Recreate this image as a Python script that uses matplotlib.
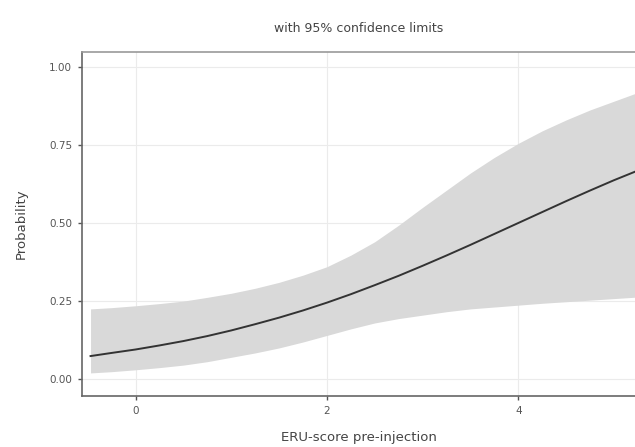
import numpy as np
import matplotlib.pyplot as plt

# values
x = [-0.47, -0.25, 0.0, 0.25, 0.5, 0.75, 1.0, 1.25, 1.5, 1.75, 2.0, 2.25, 2.5,
     2.75, 3.0, 3.25, 3.5, 3.75, 4.0, 4.25, 4.5, 4.75, 5.0, 5.25]
prob = [0.074, 0.084, 0.095, 0.108, 0.122, 0.138, 0.156, 0.176, 0.197, 0.220,
        0.245, 0.272, 0.301, 0.331, 0.363, 0.396, 0.430, 0.465, 0.500, 0.535,
        0.570, 0.604, 0.637, 0.668]
upper = [0.225, 0.229, 0.235, 0.242, 0.250, 0.262, 0.275, 0.291, 0.310, 0.333,
         0.360, 0.397, 0.440, 0.493, 0.550, 0.605, 0.660, 0.710, 0.755, 0.795,
         0.830, 0.862, 0.890, 0.918]
lower = [0.020, 0.024, 0.030, 0.037, 0.045, 0.056, 0.070, 0.084, 0.100, 0.119,
         0.140, 0.161, 0.180, 0.194, 0.205, 0.216, 0.225, 0.231, 0.237, 0.243,
         0.248, 0.253, 0.258, 0.263]
xticks = [0, 2, 4]
yticks = [0.0, 0.25, 0.5, 0.75, 1.0]

fig = plt.figure(figsize=(6.35, 4.47), dpi=100)
ax = fig.add_axes([0.129, 0.114, 0.871, 0.77])

ax.fill_between(x, lower, upper, color='#d9d9d9', linewidth=0, zorder=2)
ax.plot(x, prob, color='#333333', linewidth=1.4, zorder=3)

ax.set_xlim(-0.56, 5.22)
ax.set_ylim(-0.054, 1.048)
ax.set_xticks(xticks)
ax.set_yticks(yticks)
ax.set_xticklabels([str(t) for t in xticks])
ax.set_yticklabels(['%.2f' % t for t in yticks])
ax.grid(True, color='#ebebeb', linewidth=0.8, zorder=0)
ax.set_axisbelow(True)

for s in ['left', 'bottom']:
    ax.spines[s].set_color('#666666')
    ax.spines[s].set_linewidth(1.2)
ax.spines['top'].set_color('#999999')
ax.spines['top'].set_linewidth(1.2)
ax.spines['right'].set_visible(False)
ax.tick_params(colors='#555555', labelsize=7.5, length=3, width=1, pad=4)

ax.set_xlabel('ERU-score pre-injection', fontsize=9.5, color='#444444', labelpad=11)
ax.set_ylabel('Probability', fontsize=9.5, color='#444444', labelpad=15)
fig.text(0.564, 0.928, 'with 95% confidence limits', ha='center', fontsize=9, color='#444444')

plt.savefig('out.png', dpi=100)
